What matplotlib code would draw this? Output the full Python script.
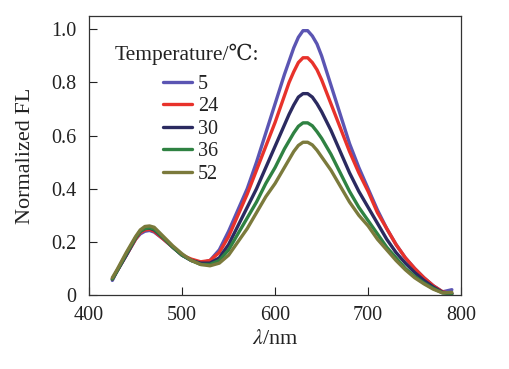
import matplotlib
matplotlib.use('Agg')
import matplotlib.pyplot as plt

plt.rcParams['font.family'] = ['Liberation Serif', 'DejaVu Serif', 'Noto Sans CJK SC']
plt.rcParams['mathtext.fontset'] = 'stix'

# wavelengths (nm)
wl = [425, 430, 440, 450, 455, 460, 465, 470, 480, 490, 500, 510, 520, 530, 540, 550, 560,
      570, 580, 590, 600, 610, 615, 620, 625, 630, 635, 640, 645, 650, 660, 670, 680, 690, 700, 710,
      720, 730, 740, 750, 760, 770, 780, 790]

# normalized fluorescence
fl_5 = [0.055, 0.09, 0.15, 0.21, 0.23, 0.24, 0.243, 0.237, 0.21, 0.18, 0.15, 0.13, 0.12, 0.13, 0.17, 0.24, 0.32,
        0.40, 0.50, 0.61, 0.72, 0.83, 0.88, 0.93, 0.97, 0.995, 0.995, 0.975, 0.945, 0.90, 0.79, 0.68, 0.57, 0.48, 0.40, 0.32,
        0.25, 0.19, 0.14, 0.10, 0.065, 0.035, 0.012, 0.02]
fl_24 = [0.06, 0.09, 0.15, 0.21, 0.235, 0.245, 0.247, 0.24, 0.21, 0.18, 0.15, 0.135, 0.125, 0.13, 0.16, 0.22, 0.30,
         0.38, 0.47, 0.56, 0.65, 0.75, 0.80, 0.84, 0.875, 0.893, 0.893, 0.875, 0.848, 0.81, 0.72, 0.63, 0.54, 0.46, 0.39, 0.31,
         0.25, 0.19, 0.14, 0.10, 0.065, 0.035, 0.012, 0.005]
fl_30 = [0.06, 0.09, 0.15, 0.215, 0.24, 0.25, 0.252, 0.245, 0.215, 0.18, 0.15, 0.13, 0.12, 0.12, 0.14, 0.19, 0.26,
         0.33, 0.40, 0.48, 0.56, 0.64, 0.68, 0.715, 0.745, 0.758, 0.758, 0.745, 0.72, 0.69, 0.62, 0.54, 0.46, 0.39, 0.33, 0.27,
         0.21, 0.16, 0.12, 0.085, 0.055, 0.03, 0.01, 0.005]
fl_36 = [0.06, 0.09, 0.155, 0.215, 0.24, 0.25, 0.253, 0.248, 0.215, 0.18, 0.15, 0.13, 0.115, 0.115, 0.13, 0.17, 0.23,
         0.29, 0.35, 0.42, 0.48, 0.55, 0.58, 0.61, 0.635, 0.648, 0.648, 0.637, 0.615, 0.59, 0.53, 0.46, 0.39, 0.33, 0.28, 0.23,
         0.18, 0.14, 0.10, 0.07, 0.045, 0.025, 0.008, 0.005]
fl_52 = [0.065, 0.095, 0.16, 0.22, 0.245, 0.258, 0.26, 0.255, 0.22, 0.185, 0.155, 0.13, 0.115, 0.11, 0.12, 0.15, 0.20,
         0.25, 0.31, 0.37, 0.42, 0.48, 0.51, 0.54, 0.563, 0.575, 0.575, 0.565, 0.545, 0.52, 0.47, 0.41, 0.35, 0.30, 0.26, 0.21,
         0.17, 0.13, 0.095, 0.065, 0.042, 0.022, 0.008, 0.01]

labels = ['5', '24', '30', '36', '52']
colors = ['#5b55b3', '#e8322b', '#2b2a60', '#2f8242', '#7b7a3c']
series = [fl_5, fl_24, fl_30, fl_36, fl_52]

fig = plt.figure(figsize=(5.09, 3.69), dpi=100)
ax = fig.add_axes([0.175, 0.2005, 0.731, 0.756])
for s, c, l in zip(series, colors, labels):
    ax.plot(wl, s, color=c, lw=2.4, label=l, solid_capstyle='round', solid_joinstyle='round')

ax.set_xlim(400, 800)
ax.set_ylim(0, 1.05)
ax.set_xticks([400, 500, 600, 700, 800])
ax.set_yticks([0, 0.2, 0.4, 0.6, 0.8, 1.0])
ax.set_yticklabels(['0', '0.2', '0.4', '0.6', '0.8', '1.0'])
ax.tick_params(direction='in', length=6, width=0.8, labelsize=14.5, colors='#222222')
ax.tick_params(axis='x', pad=8)
ax.tick_params(axis='y', pad=9)
for sp in ax.spines.values():
    sp.set_linewidth(0.9)
    sp.set_color('#333333')

ax.set_xlabel('$\\lambda$/nm', fontsize=16, color='#222222')
ax.xaxis.set_label_coords(0.5, -0.125)
ax.set_ylabel('Normalized FL', fontsize=16, color='#222222')
ax.yaxis.set_label_coords(-0.145, 0.5)

# legend title drawn as its own text so the gap below it matches
ax.text(0.07, 0.862, 'Temperature/\u2103:', transform=ax.transAxes, fontsize=15.5,
        color='#222222', va='center', ha='left')
leg = ax.legend(frameon=False, fontsize=14.5, loc='upper left', bbox_to_anchor=(0.2, 0.79),
                handlelength=1.4, handletextpad=0.3, labelspacing=0.17,
                borderaxespad=0, borderpad=0)
for t in leg.get_texts():
    t.set_color('#222222')

fig.savefig('out.png', dpi=100)
